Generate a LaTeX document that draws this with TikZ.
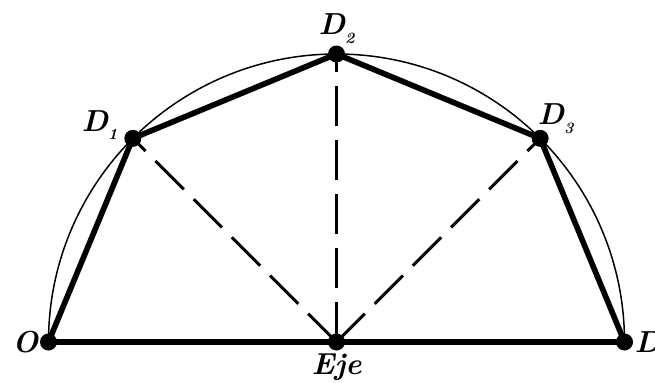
\documentclass[tikz,border=0pt]{standalone}
\usepackage{tikz}
\usetikzlibrary{positioning}

\newcommand{\ptlabel}[2]{\textbf{\textit{#1}}\raisebox{-5pt}{\fontsize{9}{9}\selectfont\textit{#2}}}

\begin{document}
\begin{tikzpicture}[
    pt/.style={circle, fill=black, inner sep=0pt, minimum size=0.34cm},
    lbl/.style={font=\LARGE\bfseries\itshape, inner sep=0pt},
    chord/.style={line width=3.2pt, line join=round},
    ray/.style={line width=1.7pt, dash pattern=on 0.8cm off 0.28cm}
]
\useasboundingbox (0,0) rectangle (13.1,7.64);

\node[pt] (eje) at (6.73,0.8) {};
\node[pt] (O) at (0.97,0.8) {};
\node[pt] (D) at (12.49,0.8) {};
\node[pt] (D1) at (2.657,4.873) {};
\node[pt] (D2) at (6.73,6.56) {};
\node[pt] (D3) at (10.803,4.873) {};

\draw[line width=0.85pt] (D.center) arc[start angle=0, end angle=180, radius=5.76];

\draw[ray] (eje.center) -- (D1.center);
\draw[ray] (eje.center) -- (D2.center);
\draw[ray] (eje.center) -- (D3.center);

\draw[chord] (O.center) -- (D1.center) -- (D2.center) -- (D3.center) -- (D.center);
\draw[chord] (O.center) -- (D.center);

\node[lbl, left=0.02cm of O] (lO) {O};
\node[lbl, right=0.02cm of D] (lD) {D};
\node[lbl, below=0.06cm of eje] (lEje) {Eje};
\node[lbl, anchor=south east] (lD1) at ([shift={(-0.3,-0.04)}]D1.center) {\ptlabel{D}{1}};
\node[lbl, above=0.02cm of D2] (lD2) {\ptlabel{D}{2}};
\node[lbl, anchor=south west] (lD3) at ([shift={(-0.06,0.08)}]D3.center) {\ptlabel{D}{3}};
\end{tikzpicture}
\end{document}
